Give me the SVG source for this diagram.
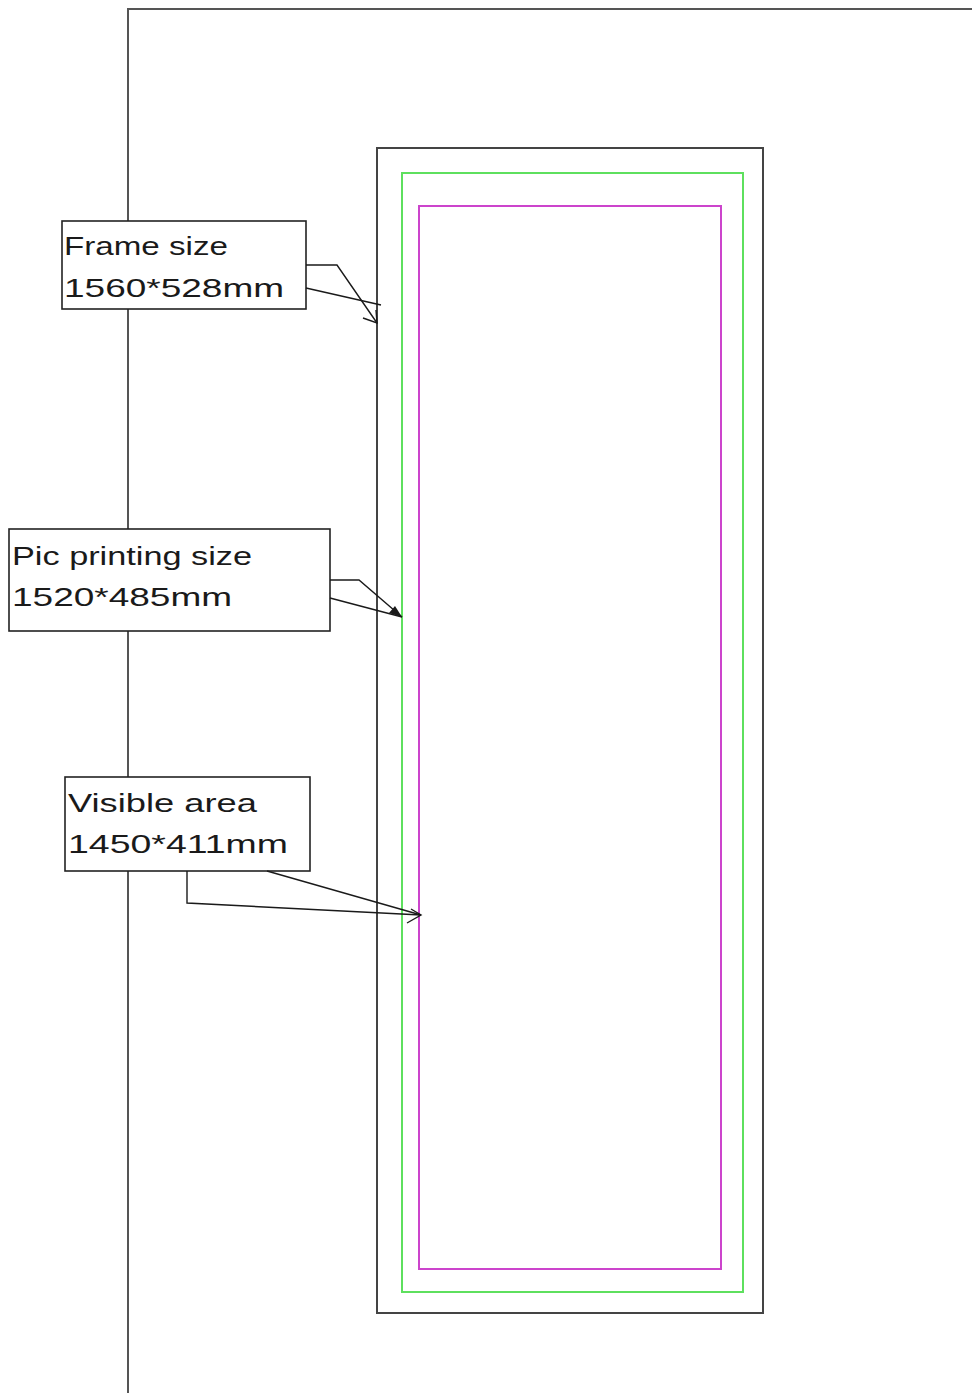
<svg xmlns="http://www.w3.org/2000/svg" width="972" height="1393" viewBox="0 0 972 1393">
<style>
.frame{fill:none;stroke:#555;stroke-width:2}
.rect{fill:none;stroke:#444;stroke-width:2}
.green{fill:none;stroke:#5ee05e;stroke-width:2}
.mag{fill:none;stroke:#cc44cc;stroke-width:2}
.box{fill:#fff;stroke:#222;stroke-width:1.6}
.lbl{font-family:"Liberation Sans",Arial,sans-serif;font-size:26px;fill:#1a1a1a}
.lead{fill:none;stroke:#1a1a1a;stroke-width:1.4}
</style>
<rect width="972" height="1393" fill="#fff"/>
<g id="sheet">
<path class="frame" d="M128,1393 V9 H972"/>
</g>
<g id="frame-rect"><rect class="rect" x="377" y="148" width="386" height="1165"/></g>
<g id="print-rect"><rect class="green" x="402" y="173" width="341" height="1119"/></g>
<g id="visible-rect"><rect class="mag" x="419" y="206" width="302" height="1063"/></g>
<g id="label-frame">
<rect class="box" x="62" y="221" width="244" height="88"/>
<text class="lbl" x="64" y="255" textLength="164" lengthAdjust="spacingAndGlyphs">Frame size</text>
<text class="lbl" x="64" y="297" textLength="220" lengthAdjust="spacingAndGlyphs">1560*528mm</text>
</g>
<g id="label-print">
<rect class="box" x="9" y="529" width="321" height="102"/>
<text class="lbl" x="12" y="565" textLength="240" lengthAdjust="spacingAndGlyphs">Pic printing size</text>
<text class="lbl" x="12" y="606" textLength="220" lengthAdjust="spacingAndGlyphs">1520*485mm</text>
</g>
<g id="label-visible">
<rect class="box" x="65" y="777" width="245" height="94"/>
<text class="lbl" x="68" y="812" textLength="189" lengthAdjust="spacingAndGlyphs">Visible area</text>
<text class="lbl" x="68" y="853" textLength="220" lengthAdjust="spacingAndGlyphs">1450*411mm</text>
</g>
<g id="connectors">
<path class="lead" d="M306,265 H337 L377,323"/>
<path class="lead" d="M306,288 L381,305"/>
<path class="lead" d="M363,318 L377,323 L376,310"/>
<path class="lead" d="M330,580 H359 L402,617"/>
<path class="lead" d="M330,598 L402,617"/>
<path d="M402,617 L389,613 L395,606 Z" fill="#1a1a1a"/>
<path class="lead" d="M187,871 V903 L421,915"/>
<path class="lead" d="M267,871 L421,915"/>
<path class="lead" d="M407,923 L421,915 L411,909"/>
</g>
</svg>
